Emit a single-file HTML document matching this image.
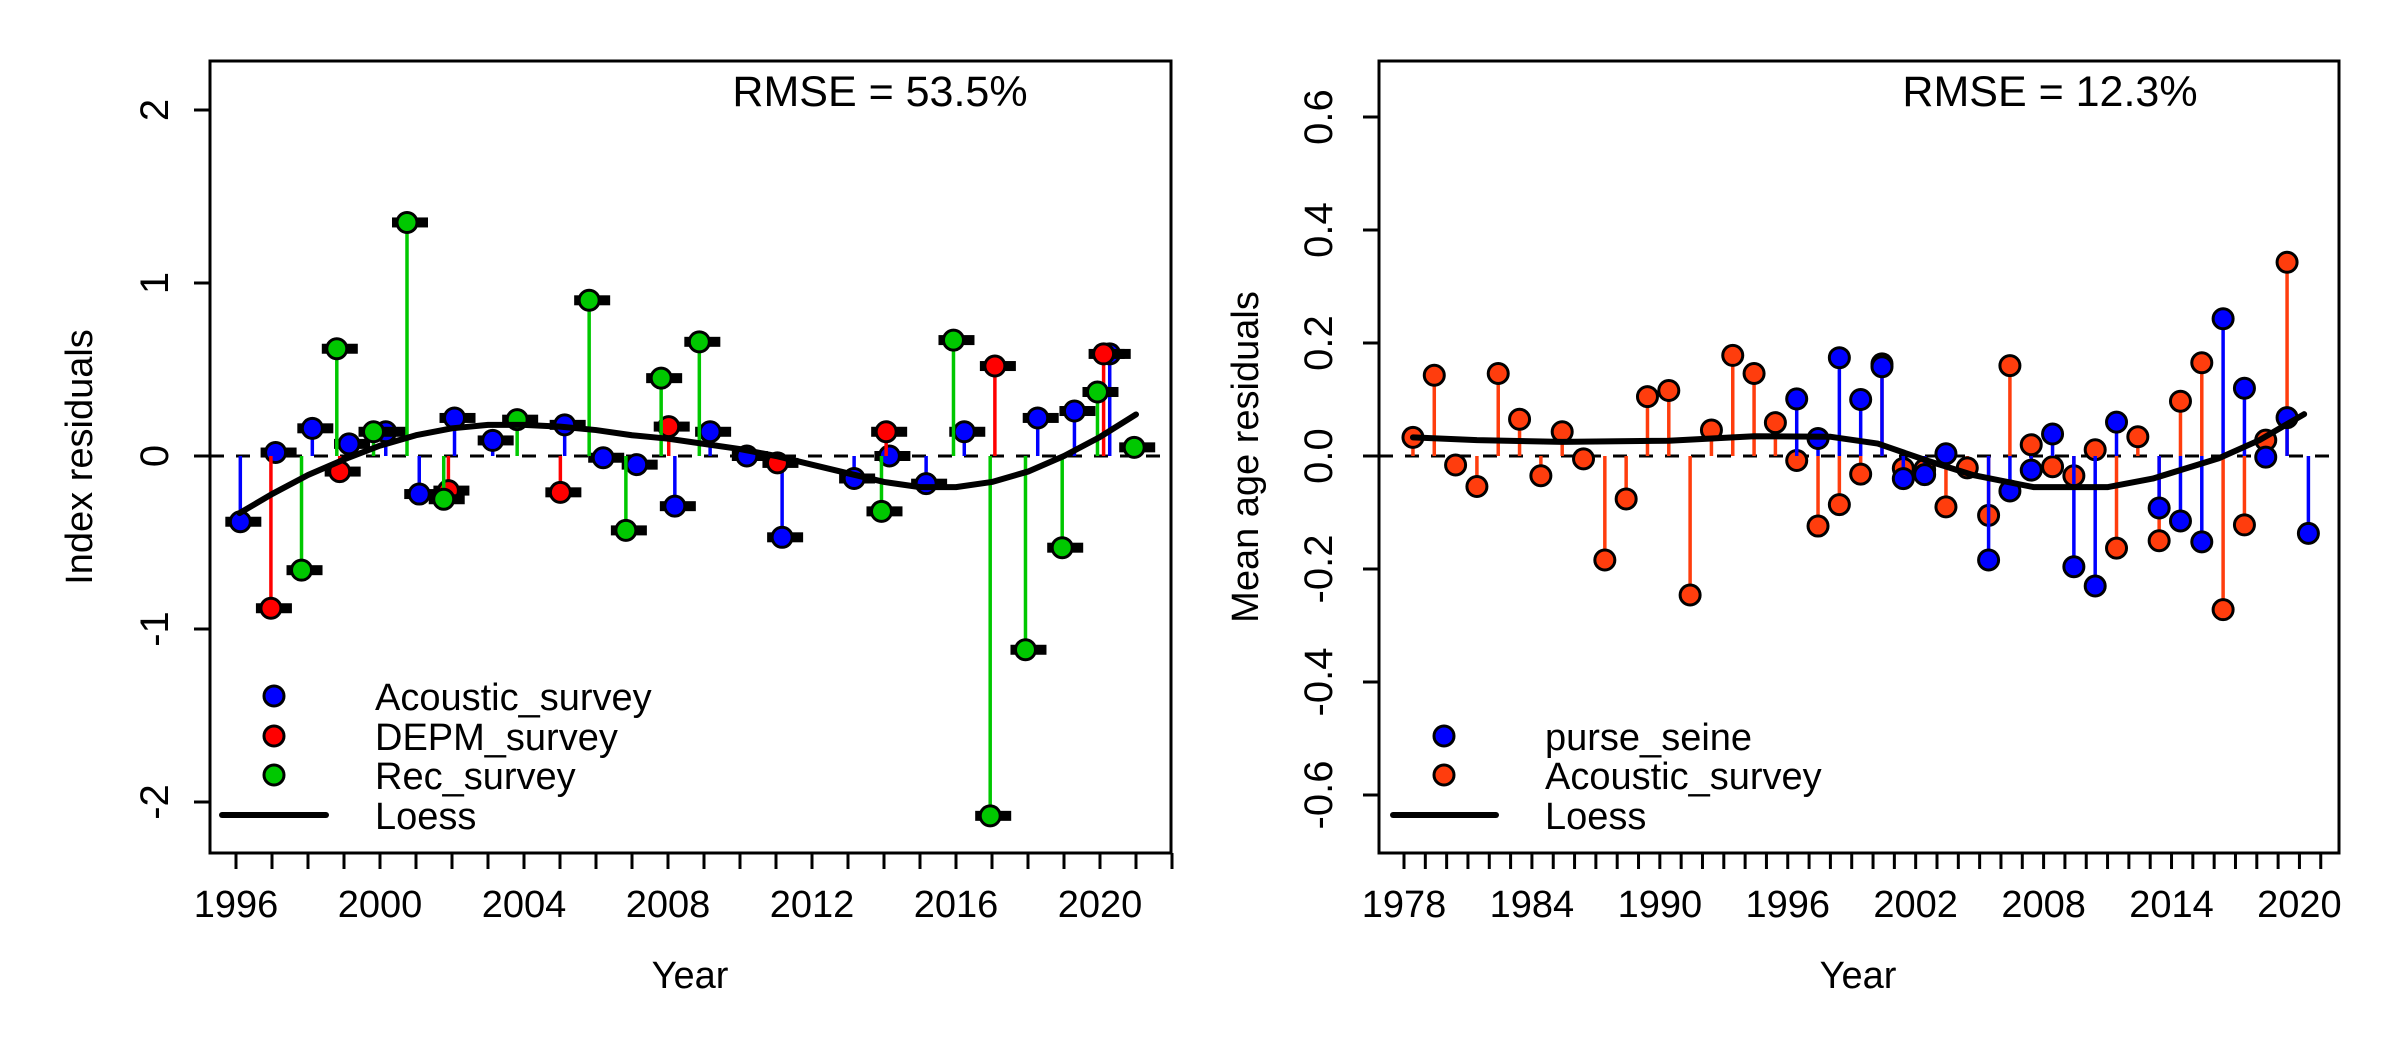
<!DOCTYPE html>
<html><head><meta charset="utf-8"><style>
html,body{margin:0;padding:0;background:#fff}
svg{display:block}
text{font-family:"Liberation Sans",Arial,sans-serif;fill:#000}
</style></head><body>
<svg id="chart" width="2400" height="1050" viewBox="0 0 2400 1050" xmlns="http://www.w3.org/2000/svg"></svg>
<script>
// ---- Left panel data (Index residuals) ----
const acYears=[1996.12,1997.10,1998.12,1999.14,2000.16,2001.09,2002.07,2003.13,2005.13,2006.20,2007.13,2008.19,2009.17,2010.19,2011.17,2013.17,2014.15,2015.17,2016.23,2018.27,2019.29,2020.27];
const acVals=[-0.38,0.02,0.16,0.07,0.14,-0.22,0.22,0.09,0.18,-0.01,-0.05,-0.29,0.14,0.0,-0.47,-0.13,0.0,-0.16,0.14,0.22,0.26,0.59];
const depmYears=[1996.97,1998.88,2001.90,2005.01,2008.02,2011.04,2014.06,2017.08,2020.10];
const depmVals=[-0.88,-0.09,-0.2,-0.21,0.17,-0.04,0.14,0.52,0.59];
const recYears=[1997.82,1998.80,1999.82,2000.75,2001.77,2003.81,2005.81,2006.83,2007.81,2008.87,2013.93,2015.93,2016.95,2017.93,2018.95,2019.93,2020.95];
const recVals=[-0.66,0.62,0.14,1.35,-0.25,0.21,0.9,-0.43,0.45,0.66,-0.32,0.67,-2.08,-1.12,-0.53,0.37,0.05];
const loessLYears=[1996.1,1997,1998,1999,2000,2001,2002,2003,2004,2005,2006,2007,2008,2009,2010,2011,2012,2013,2014,2015,2016,2017,2018,2019,2020,2021];
const loessLVals=[-0.33,-0.22,-0.11,-0.02,0.06,0.12,0.16,0.18,0.18,0.17,0.15,0.12,0.1,0.07,0.04,0.0,-0.05,-0.1,-0.15,-0.18,-0.18,-0.15,-0.09,0.0,0.11,0.24];
const leftXTicks=[1996,2000,2004,2008,2012,2016,2020];
const leftYTicks=[-2,-1,0,1,2];
// ---- Right panel data (Mean age residuals) ----
const acYearsR=[1978,1979,1980,1981,1982,1983,1984,1985,1986,1987,1988,1989,1990,1991,1992,1993,1994,1995,1996,1997,1998,1999,2000,2001,2002,2003,2004,2005,2006,2007,2008,2009,2010,2011,2012,2013,2014,2015,2016,2017,2018,2019];
const acValsR=[0.033,0.143,-0.016,-0.054,0.146,0.065,-0.035,0.043,-0.005,-0.184,-0.076,0.105,0.116,-0.246,0.046,0.178,0.146,0.059,-0.008,-0.124,-0.086,-0.032,0.163,-0.022,-0.024,-0.09,-0.021,-0.105,0.16,0.02,-0.019,-0.035,0.011,-0.163,0.034,-0.15,0.097,0.165,-0.272,-0.122,0.028,0.343];
const psYears=[1996,1997,1998,1999,2000,2001,2002,2003,2005,2006,2007,2008,2009,2010,2011,2013,2014,2015,2016,2017,2018,2019,2020];
const psVals=[0.101,0.031,0.174,0.1,0.158,-0.04,-0.033,0.004,-0.184,-0.062,-0.025,0.039,-0.196,-0.23,0.06,-0.092,-0.115,-0.152,0.243,0.12,-0.002,0.068,-0.137];
const loessRYears=[1978,1981,1985,1990,1994,1997.6,1999.8,2002.1,2004.3,2007.1,2010.6,2012.7,2015.8,2017.7,2019.8];
const loessRVals=[0.033,0.028,0.025,0.027,0.035,0.034,0.022,-0.008,-0.034,-0.055,-0.055,-0.04,-0.004,0.028,0.074];
const rightXTicks=[1978,1984,1990,1996,2002,2008,2014,2020];
const rightYTicks=[-0.6,-0.4,-0.2,0.0,0.2,0.4,0.6];

const NS='http://www.w3.org/2000/svg';
const svg=document.getElementById('chart');
function mk(tag,attrs,parent){const e=document.createElementNS(NS,tag);for(const k in attrs)e.setAttribute(k,attrs[k]);(parent||svg).appendChild(e);return e;}

const xL=y=>236+(y-1996)*36;
const yL=v=>456-v*173;
const xR=y=>1404+(y-1978)*21.32;
const xRp=y=>xR(y+0.42);
const yR=v=>456-v*565;

function panel(name,box,xs,ys,xTicksMinor,xTicks,yTicks,yFmt,yLabX){
  const g=mk('g',{});
  
  
  const r=mk('rect',{x:box[0],y:box[1],width:box[2]-box[0],height:box[3]-box[1],fill:'none',stroke:'#000','stroke-width':3},g);
  
  
  const z=mk('line',{x1:box[0],x2:box[2],y1:ys(0),y2:ys(0),stroke:'#000','stroke-width':3,'stroke-dasharray':'14 12'},g);
  
  
  const xa=mk('g',{},g);
  
  
  xTicksMinor.forEach(t=>{mk('line',{x1:xs(t),x2:xs(t),y1:box[3],y2:box[3]+16,stroke:'#000','stroke-width':3},xa);});
  xTicks.forEach(t=>{
    const tx=mk('text',{x:xs(t),y:917,'font-size':38,'text-anchor':'middle'},xa);
    tx.textContent=t;
    
    
  });
  const ya=mk('g',{},g);
  
  
  yTicks.forEach(t=>{
    mk('line',{x1:box[0]-16,x2:box[0],y1:ys(t),y2:ys(t),stroke:'#000','stroke-width':3},ya);
    const tx=mk('text',{x:yLabX,y:ys(t),'font-size':40,'text-anchor':'middle',transform:`rotate(-90 ${yLabX} ${ys(t)})`},ya);
    tx.textContent=yFmt(t);
    
    
  });
  return g;
}
function series(g,name,years,vals,xs,ys,color,bar){
  const s=mk('g',{},g);
  
  
  years.forEach((yr,i)=>{
    const l=mk('line',{x1:xs(yr),x2:xs(yr),y1:ys(0),y2:ys(vals[i]),stroke:color,'stroke-width':3.5},s);
    
    
  });
  years.forEach((yr,i)=>{
    if(bar){
      const b=mk('rect',{x:xs(yr)-15,y:ys(vals[i])-5,width:36,height:10,fill:'#000'},s);
      
      
    }
    const c=mk('circle',{cx:xs(yr),cy:ys(vals[i]),r:10,fill:color,stroke:'#000','stroke-width':3},s);
    
    
  });
}
function loess(g,years,vals,xs,ys){
  const p=mk('polyline',{points:years.map((y,i)=>xs(y)+','+ys(vals[i])).join(' '),fill:'none',stroke:'#000','stroke-width':6,'stroke-linejoin':'round','stroke-linecap':'round'},g);
  
  
}
function legend(g,x0,entries,lineY,lineX1,lineX2,textX){
  const lg=mk('g',{},g);
  
  
  entries.forEach(e=>{
    const c=mk('circle',{cx:x0,cy:e[2],r:10,fill:e[1],stroke:'#000','stroke-width':3},lg);
    
    
    const t=mk('text',{x:textX,y:e[2]+14,'font-size':38},lg);
    t.textContent=e[0];
    
    
  });
  mk('line',{x1:lineX1,x2:lineX2,y1:lineY,y2:lineY,stroke:'#000','stroke-width':6,'stroke-linecap':'round'},lg);
  const t=mk('text',{x:textX,y:lineY+14,'font-size':38},lg);
  t.textContent='Loess';
  
  
}
function labels(g,cx,ytx,ytitle,rmse,rx){
  const a=mk('text',{x:cx,y:988,'font-size':38,'text-anchor':'middle'},g);
  a.textContent='Year';
  
  
  const b=mk('text',{x:ytx,y:457,'font-size':38,'text-anchor':'middle',transform:`rotate(-90 ${ytx} 457)`},g);
  b.textContent=ytitle;
  
  
  const c=mk('text',{x:rx,y:106,'font-size':43,'text-anchor':'middle'},g);
  c.textContent=rmse;
  
  
}

const yrsL=[];for(let y=1996;y<=2022;y++)yrsL.push(y);
const gL=panel('index-residuals-panel',[210,61,1171,853],xL,yL,yrsL,leftXTicks,leftYTicks,v=>String(v),168);
series(gL,'acoustic-survey-series',acYears,acVals,xL,yL,'#0000ff',true);
series(gL,'depm-survey-series',depmYears,depmVals,xL,yL,'#ff0000',true);
series(gL,'rec-survey-series',recYears,recVals,xL,yL,'#00c800',true);
loess(gL,loessLYears,loessLVals,xL,yL);
legend(gL,274,[['Acoustic_survey','#0000ff',696],['DEPM_survey','#ff0000',736],['Rec_survey','#00c800',775]],815,222,326,375);
labels(gL,690,92,'Index residuals','RMSE = 53.5%',880);

const yrsR=[];for(let y=1978;y<=2021;y++)yrsR.push(y);
const gR=panel('mean-age-residuals-panel',[1379,61,2339,853],xR,yR,yrsR,rightXTicks,rightYTicks,v=>v.toFixed(1),1332);
series(gR,'acoustic-survey-age-series',acYearsR,acValsR,xRp,yR,'#ff3d0d',false);
series(gR,'purse-seine-series',psYears,psVals,xRp,yR,'#0000ff',false);
loess(gR,loessRYears,loessRVals,xRp,yR);
legend(gR,1444,[['purse_seine','#0000ff',736],['Acoustic_survey','#ff3d0d',775]],815,1393,1496,1545);
labels(gR,1858,1258,'Mean age residuals','RMSE = 12.3%',2050);
</script>
</body></html>
